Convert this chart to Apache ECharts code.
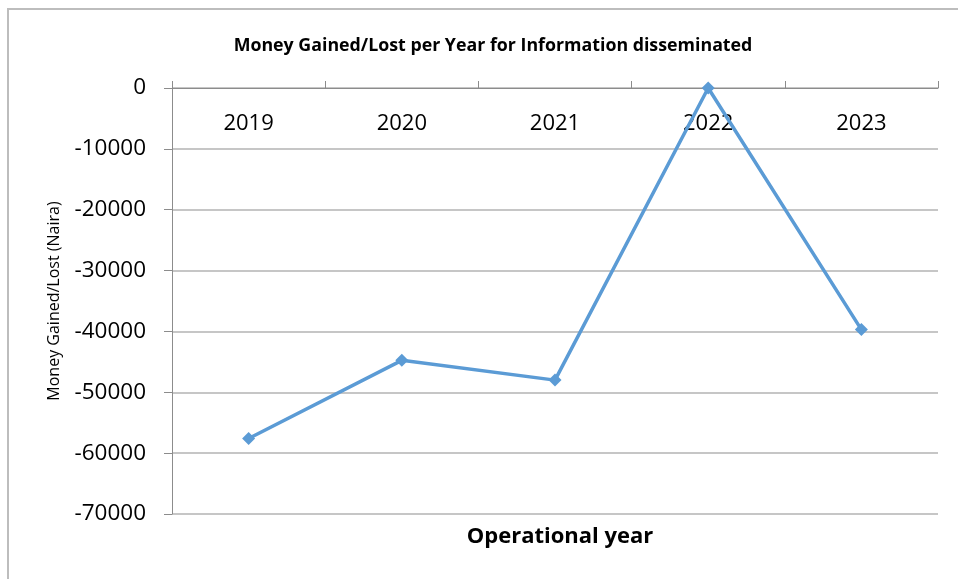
<!DOCTYPE html>
<html>
<head>
<meta charset="utf-8">
<script src="https://cdn.jsdelivr.net/npm/echarts@6/dist/echarts.min.js"></script>
<style>
  html, body { margin: 0; padding: 0; background: #fff; }
  #myChart { width: 958px; height: 579px; }
</style>
</head>
<body>
<div id="myChart"></div>
<script>
var years = ['2019', '2020', '2021', '2022', '2023']
var moneyValues = [-57600, -44750, -48000, 0, -39700]
var yMin = -70000
var yMax = 0
var yStep = 10000

var font = '"Open Sans", Lato, sans-serif'
var myChart = echarts.init(document.getElementById('myChart'))

var option = {
  backgroundColor: '#ffffff',
  animation: false,
  textStyle: { fontFamily: font },
  title: [
    {
      text: 'Money Gained/Lost per Year for Information disseminated',
      left: 488,
      top: 32,
      textAlign: 'center',
      textStyle: { fontSize: 17.8, fontWeight: 'bold', color: '#000', fontFamily: font },
    },
    {
      text: 'Operational year',
      left: 555,
      top: 521,
      textAlign: 'center',
      textStyle: { fontSize: 22, fontWeight: 'bold', color: '#000', fontFamily: font },
    },
  ],
  graphic: [
    {
      type: 'rect',
      shape: { x: 8, y: 9, width: 1000, height: 1000 },
      style: { fill: 'none', stroke: '#bdbdbd', lineWidth: 2 },
      silent: true,
    },
  ],
  grid: {
    left: 172,
    right: 20,
    top: 88,
    bottom: 65,
  },
  xAxis: {
    type: 'category',
    position: 'top',
    data: years,
    boundaryGap: true,
    axisLine: { onZero: false, lineStyle: { color: '#8c8c8c', width: 1 } },
    axisTick: { show: true, length: 7, lineStyle: { color: '#8c8c8c' } },
    axisLabel: {
      inside: true,
      margin: 25,
      fontSize: 22,
      color: '#000',
      fontFamily: font,
    },
    splitLine: { show: false },
  },
  yAxis: {
    type: 'value',
    min: yMin,
    max: yMax,
    interval: yStep,
    name: 'Money Gained/Lost (Naira)',
    nameLocation: 'middle',
    nameRotate: 90,
    nameGap: 110,
    nameTextStyle: { fontSize: 16, color: '#000', fontFamily: font },
    axisLine: { show: true, lineStyle: { color: '#8c8c8c', width: 1 } },
    axisTick: { show: true, length: 8, lineStyle: { color: '#8c8c8c' } },
    axisLabel: {
      margin: 26,
      fontSize: 22.5,
      color: '#000',
      fontFamily: font,
      formatter: function (v) { return String(v) },
    },
    splitLine: { show: true, lineStyle: { color: '#b3b3b3', width: 1.5 } },
  },
  series: [
    {
      name: 'Money Gained/Lost',
      type: 'line',
      data: moneyValues,
      symbol: 'diamond',
      symbolSize: 13,
      itemStyle: { color: '#5b9bd5' },
      lineStyle: { color: '#5b9bd5', width: 3.5 },
    },
  ],
}
myChart.setOption(option)
</script>
</body>
</html>
